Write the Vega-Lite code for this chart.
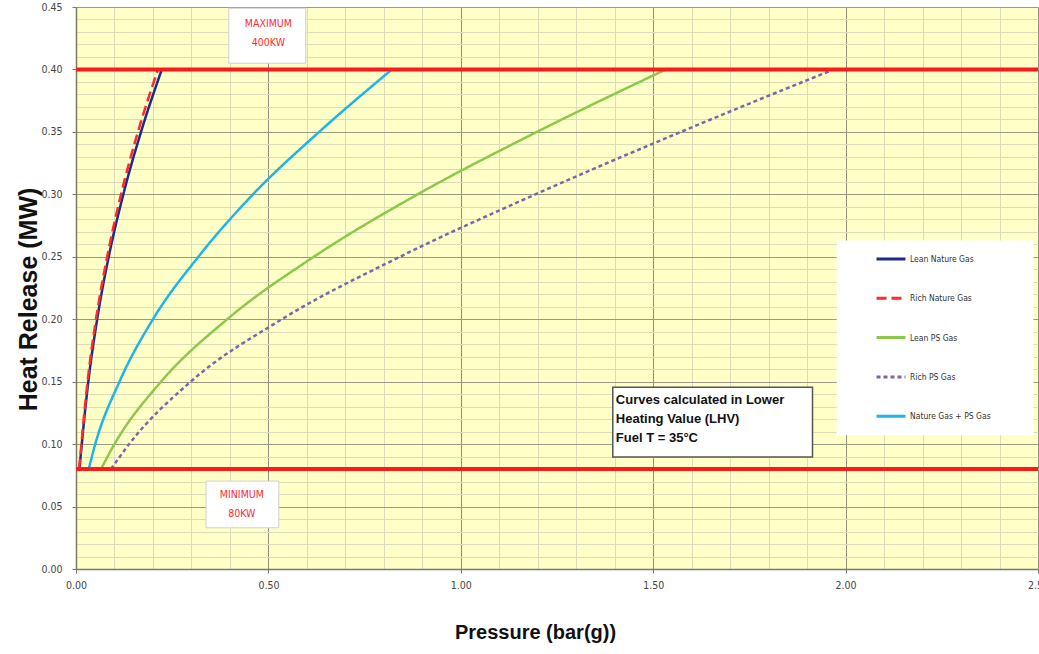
{
  "$schema": "https://vega.github.io/schema/vega-lite/v6.json",
  "width": 962,
  "height": 562,
  "autosize": {"type": "none"},
  "padding": {"left": 76, "top": 7, "right": 1, "bottom": 85},
  "background": "white",
  "config": {
    "view": {"fill": "#FFFFC8", "stroke": null},
    "axis": {
      "labelFont": "DejaVu Sans Condensed, Liberation Sans",
      "labelFontSize": 10.5,
      "labelColor": "#444444",
      "titleColor": "#111111",
      "titleFont": "Liberation Sans",
      "titleFontWeight": "bold",
      "domainColor": "#7a7a6a",
      "domainWidth": 1.5,
      "tickColor": "#7a7a6a",
      "tickSize": 4,
      "labelOverlap": false,
      "labelFlush": false
    },
    "legend": {
      "orient": "none",
      "legendX": 799,
      "legendY": 236,
      "padding": 0,
      "symbolType": "stroke",
      "symbolSize": 841,
      "symbolStrokeWidth": 3,
      "labelFont": "DejaVu Sans Condensed, Liberation Sans",
      "labelFontSize": 8.5,
      "labelColor": "#333333",
      "labelOffset": 3,
      "rowPadding": 17.3,
      "title": null
    }
  },
  "datasets": {
    "curves": [
      {"series": "Lean Nature Gas", "p": 0.009, "v": 0.08},
      {"series": "Lean Nature Gas", "p": 0.015, "v": 0.10},
      {"series": "Lean Nature Gas", "p": 0.032, "v": 0.15},
      {"series": "Lean Nature Gas", "p": 0.055, "v": 0.20},
      {"series": "Lean Nature Gas", "p": 0.085, "v": 0.25},
      {"series": "Lean Nature Gas", "p": 0.123, "v": 0.30},
      {"series": "Lean Nature Gas", "p": 0.169, "v": 0.35},
      {"series": "Lean Nature Gas", "p": 0.223, "v": 0.40},
      {"series": "Rich Nature Gas", "p": 0.008, "v": 0.08},
      {"series": "Rich Nature Gas", "p": 0.014, "v": 0.10},
      {"series": "Rich Nature Gas", "p": 0.030, "v": 0.15},
      {"series": "Rich Nature Gas", "p": 0.052, "v": 0.20},
      {"series": "Rich Nature Gas", "p": 0.081, "v": 0.25},
      {"series": "Rich Nature Gas", "p": 0.117, "v": 0.30},
      {"series": "Rich Nature Gas", "p": 0.161, "v": 0.35},
      {"series": "Rich Nature Gas", "p": 0.213, "v": 0.40},
      {"series": "Lean PS Gas", "p": 0.065, "v": 0.08},
      {"series": "Lean PS Gas", "p": 0.100, "v": 0.10},
      {"series": "Lean PS Gas", "p": 0.221, "v": 0.15},
      {"series": "Lean PS Gas", "p": 0.393, "v": 0.20},
      {"series": "Lean PS Gas", "p": 0.618, "v": 0.25},
      {"series": "Lean PS Gas", "p": 0.888, "v": 0.30},
      {"series": "Lean PS Gas", "p": 1.198, "v": 0.35},
      {"series": "Lean PS Gas", "p": 1.533, "v": 0.40},
      {"series": "Rich PS Gas", "p": 0.091, "v": 0.08},
      {"series": "Rich PS Gas", "p": 0.138, "v": 0.10},
      {"series": "Rich PS Gas", "p": 0.298, "v": 0.15},
      {"series": "Rich PS Gas", "p": 0.535, "v": 0.20},
      {"series": "Rich PS Gas", "p": 0.842, "v": 0.25},
      {"series": "Rich PS Gas", "p": 1.194, "v": 0.30},
      {"series": "Rich PS Gas", "p": 1.572, "v": 0.35},
      {"series": "Rich PS Gas", "p": 1.969, "v": 0.40},
      {"series": "Nature Gas + PS Gas", "p": 0.033, "v": 0.08},
      {"series": "Nature Gas + PS Gas", "p": 0.050, "v": 0.10},
      {"series": "Nature Gas + PS Gas", "p": 0.113, "v": 0.15},
      {"series": "Nature Gas + PS Gas", "p": 0.200, "v": 0.20},
      {"series": "Nature Gas + PS Gas", "p": 0.318, "v": 0.25},
      {"series": "Nature Gas + PS Gas", "p": 0.460, "v": 0.30},
      {"series": "Nature Gas + PS Gas", "p": 0.632, "v": 0.35},
      {"series": "Nature Gas + PS Gas", "p": 0.821, "v": 0.40}
    ],
    "limits": [
      {"limit": "maximum", "v": 0.40},
      {"limit": "minimum", "v": 0.08}
    ],
    "boxes": [
      {"box": "legend", "p": 1.977, "p2": 2.488, "v": 0.107, "v2": 0.263},
      {"box": "maximum", "p": 0.397, "p2": 0.597, "v": 0.405, "v2": 0.449},
      {"box": "minimum", "p": 0.338, "p2": 0.527, "v": 0.033, "v2": 0.0704},
      {"box": "note", "p": 1.395, "p2": 1.914, "v": 0.0896, "v2": 0.1456}
    ],
    "notes": [
      {"note": "maximum", "p": 0.5, "v": 0.436, "text": "MAXIMUM\n400KW"},
      {"note": "minimum", "p": 0.431, "v": 0.0592, "text": "MINIMUM\n80KW"},
      {"note": "lhv", "p": 1.403, "v": 0.1352, "text": "Curves calculated in Lower\nHeating Value (LHV)\nFuel T = 35°C"}
    ]
  },
  "layer": [
    {
      "data": {"name": "boxes"},
      "transform": [{"filter": "datum.box === 'legend'"}],
      "mark": {"type": "rect", "fill": "white", "strokeWidth": 0},
      "encoding": {
        "x": {"field": "p", "type": "quantitative", "title": "Pressure (bar(g))",
          "scale": {"domain": [0, 2.5], "nice": false, "zero": false},
          "axis": {
            "values": [0,0.1,0.2,0.3,0.4,0.5,0.6,0.7,0.8,0.9,1,1.1,1.2,1.3,1.4,1.5,1.6,1.7,1.8,1.9,2,2.1,2.2,2.3,2.4,2.5],
            "format": ".2f",
            "labelExpr": "abs(datum.value*2-round(datum.value*2))<0.001 ? datum.label : ''",
            "grid": true,
            "gridColor": {"condition": {"test": "abs(datum.value*2-round(datum.value*2))<0.001", "value": "#8f8f7a"}, "value": "#dcdcb8"},
            "gridWidth": 1,
            "tickOpacity": {"condition": {"test": "abs(datum.value*2-round(datum.value*2))<0.001", "value": 1}, "value": 0},
            "labelPadding": 7,
            "titleFontSize": 20,
            "titleX": 459,
            "titleY": 63,
            "titleAlign": "center",
            "titleBaseline": "middle"
          }
        },
        "x2": {"field": "p2"},
        "y": {"field": "v", "type": "quantitative", "title": "Heat Release (MW)",
          "scale": {"domain": [0, 0.45], "nice": false, "zero": false},
          "axis": {
            "values": [0,0.01,0.02,0.03,0.04,0.05,0.06,0.07,0.08,0.09,0.1,0.11,0.12,0.13,0.14,0.15,0.16,0.17,0.18,0.19,0.2,0.21,0.22,0.23,0.24,0.25,0.26,0.27,0.28,0.29,0.3,0.31,0.32,0.33,0.34,0.35,0.36,0.37,0.38,0.39,0.4,0.41,0.42,0.43,0.44,0.45],
            "format": ".2f",
            "labelExpr": "abs(datum.value*20-round(datum.value*20))<0.001 ? datum.label : ''",
            "grid": true,
            "gridColor": {"condition": {"test": "abs(datum.value*20-round(datum.value*20))<0.001", "value": "#9a9a82"}, "value": "#dcdcb8"},
            "gridWidth": 1,
            "tickOpacity": {"condition": {"test": "abs(datum.value*20-round(datum.value*20))<0.001", "value": 1}, "value": 0},
            "labelPadding": 10,
            "titleFontSize": 25,
            "titleX": -48,
            "titleY": 292,
            "titleAngle": -90,
            "titleAlign": "center",
            "titleBaseline": "middle"
          }
        },
        "y2": {"field": "v2"}
      }
    },
    {
      "data": {"name": "boxes"},
      "transform": [{"filter": "datum.box === 'maximum' || datum.box === 'minimum'"}],
      "mark": {"type": "rect", "fill": "white", "stroke": "#d0d0d0", "strokeWidth": 1},
      "encoding": {
        "x": {"field": "p", "type": "quantitative", "title": "Pressure (bar(g))",
          "scale": {"domain": [0, 2.5], "nice": false, "zero": false},
          "axis": {
            "values": [0,0.1,0.2,0.3,0.4,0.5,0.6,0.7,0.8,0.9,1,1.1,1.2,1.3,1.4,1.5,1.6,1.7,1.8,1.9,2,2.1,2.2,2.3,2.4,2.5],
            "format": ".2f",
            "labelExpr": "abs(datum.value*2-round(datum.value*2))<0.001 ? datum.label : ''",
            "grid": true,
            "gridColor": {"condition": {"test": "abs(datum.value*2-round(datum.value*2))<0.001", "value": "#8f8f7a"}, "value": "#dcdcb8"},
            "gridWidth": 1,
            "tickOpacity": {"condition": {"test": "abs(datum.value*2-round(datum.value*2))<0.001", "value": 1}, "value": 0},
            "labelPadding": 7,
            "titleFontSize": 20,
            "titleX": 459,
            "titleY": 63,
            "titleAlign": "center",
            "titleBaseline": "middle"
          }
        },
        "x2": {"field": "p2"},
        "y": {"field": "v", "type": "quantitative", "title": "Heat Release (MW)",
          "scale": {"domain": [0, 0.45], "nice": false, "zero": false},
          "axis": {
            "values": [0,0.01,0.02,0.03,0.04,0.05,0.06,0.07,0.08,0.09,0.1,0.11,0.12,0.13,0.14,0.15,0.16,0.17,0.18,0.19,0.2,0.21,0.22,0.23,0.24,0.25,0.26,0.27,0.28,0.29,0.3,0.31,0.32,0.33,0.34,0.35,0.36,0.37,0.38,0.39,0.4,0.41,0.42,0.43,0.44,0.45],
            "format": ".2f",
            "labelExpr": "abs(datum.value*20-round(datum.value*20))<0.001 ? datum.label : ''",
            "grid": true,
            "gridColor": {"condition": {"test": "abs(datum.value*20-round(datum.value*20))<0.001", "value": "#9a9a82"}, "value": "#dcdcb8"},
            "gridWidth": 1,
            "tickOpacity": {"condition": {"test": "abs(datum.value*20-round(datum.value*20))<0.001", "value": 1}, "value": 0},
            "labelPadding": 10,
            "titleFontSize": 25,
            "titleX": -48,
            "titleY": 292,
            "titleAngle": -90,
            "titleAlign": "center",
            "titleBaseline": "middle"
          }
        },
        "y2": {"field": "v2"}
      }
    },
    {
      "data": {"name": "boxes"},
      "transform": [{"filter": "datum.box === 'note'"}],
      "mark": {"type": "rect", "fill": "white", "stroke": "#555555", "strokeWidth": 1.5},
      "encoding": {
        "x": {"field": "p", "type": "quantitative", "title": "Pressure (bar(g))",
          "scale": {"domain": [0, 2.5], "nice": false, "zero": false},
          "axis": {
            "values": [0,0.1,0.2,0.3,0.4,0.5,0.6,0.7,0.8,0.9,1,1.1,1.2,1.3,1.4,1.5,1.6,1.7,1.8,1.9,2,2.1,2.2,2.3,2.4,2.5],
            "format": ".2f",
            "labelExpr": "abs(datum.value*2-round(datum.value*2))<0.001 ? datum.label : ''",
            "grid": true,
            "gridColor": {"condition": {"test": "abs(datum.value*2-round(datum.value*2))<0.001", "value": "#8f8f7a"}, "value": "#dcdcb8"},
            "gridWidth": 1,
            "tickOpacity": {"condition": {"test": "abs(datum.value*2-round(datum.value*2))<0.001", "value": 1}, "value": 0},
            "labelPadding": 7,
            "titleFontSize": 20,
            "titleX": 459,
            "titleY": 63,
            "titleAlign": "center",
            "titleBaseline": "middle"
          }
        },
        "x2": {"field": "p2"},
        "y": {"field": "v", "type": "quantitative", "title": "Heat Release (MW)",
          "scale": {"domain": [0, 0.45], "nice": false, "zero": false},
          "axis": {
            "values": [0,0.01,0.02,0.03,0.04,0.05,0.06,0.07,0.08,0.09,0.1,0.11,0.12,0.13,0.14,0.15,0.16,0.17,0.18,0.19,0.2,0.21,0.22,0.23,0.24,0.25,0.26,0.27,0.28,0.29,0.3,0.31,0.32,0.33,0.34,0.35,0.36,0.37,0.38,0.39,0.4,0.41,0.42,0.43,0.44,0.45],
            "format": ".2f",
            "labelExpr": "abs(datum.value*20-round(datum.value*20))<0.001 ? datum.label : ''",
            "grid": true,
            "gridColor": {"condition": {"test": "abs(datum.value*20-round(datum.value*20))<0.001", "value": "#9a9a82"}, "value": "#dcdcb8"},
            "gridWidth": 1,
            "tickOpacity": {"condition": {"test": "abs(datum.value*20-round(datum.value*20))<0.001", "value": 1}, "value": 0},
            "labelPadding": 10,
            "titleFontSize": 25,
            "titleX": -48,
            "titleY": 292,
            "titleAngle": -90,
            "titleAlign": "center",
            "titleBaseline": "middle"
          }
        },
        "y2": {"field": "v2"}
      }
    },
    {
      "data": {"name": "curves"},
      "mark": {"type": "line", "interpolate": "monotone", "strokeWidth": 2.5},
      "encoding": {
        "x": {"field": "p", "type": "quantitative", "title": "Pressure (bar(g))",
          "scale": {"domain": [0, 2.5], "nice": false, "zero": false},
          "axis": {
            "values": [0,0.1,0.2,0.3,0.4,0.5,0.6,0.7,0.8,0.9,1,1.1,1.2,1.3,1.4,1.5,1.6,1.7,1.8,1.9,2,2.1,2.2,2.3,2.4,2.5],
            "format": ".2f",
            "labelExpr": "abs(datum.value*2-round(datum.value*2))<0.001 ? datum.label : ''",
            "grid": true,
            "gridColor": {"condition": {"test": "abs(datum.value*2-round(datum.value*2))<0.001", "value": "#8f8f7a"}, "value": "#dcdcb8"},
            "gridWidth": 1,
            "tickOpacity": {"condition": {"test": "abs(datum.value*2-round(datum.value*2))<0.001", "value": 1}, "value": 0},
            "labelPadding": 7,
            "titleFontSize": 20,
            "titleX": 459,
            "titleY": 63,
            "titleAlign": "center",
            "titleBaseline": "middle"
          }
        },
        "y": {"field": "v", "type": "quantitative", "title": "Heat Release (MW)",
          "scale": {"domain": [0, 0.45], "nice": false, "zero": false},
          "axis": {
            "values": [0,0.01,0.02,0.03,0.04,0.05,0.06,0.07,0.08,0.09,0.1,0.11,0.12,0.13,0.14,0.15,0.16,0.17,0.18,0.19,0.2,0.21,0.22,0.23,0.24,0.25,0.26,0.27,0.28,0.29,0.3,0.31,0.32,0.33,0.34,0.35,0.36,0.37,0.38,0.39,0.4,0.41,0.42,0.43,0.44,0.45],
            "format": ".2f",
            "labelExpr": "abs(datum.value*20-round(datum.value*20))<0.001 ? datum.label : ''",
            "grid": true,
            "gridColor": {"condition": {"test": "abs(datum.value*20-round(datum.value*20))<0.001", "value": "#9a9a82"}, "value": "#dcdcb8"},
            "gridWidth": 1,
            "tickOpacity": {"condition": {"test": "abs(datum.value*20-round(datum.value*20))<0.001", "value": 1}, "value": 0},
            "labelPadding": 10,
            "titleFontSize": 25,
            "titleX": -48,
            "titleY": 292,
            "titleAngle": -90,
            "titleAlign": "center",
            "titleBaseline": "middle"
          }
        },
        "order": {"field": "p", "type": "quantitative"},
        "color": {"field": "series", "type": "nominal",
          "scale": {"domain": ["Lean Nature Gas", "Rich Nature Gas", "Lean PS Gas", "Rich PS Gas", "Nature Gas + PS Gas"],
                    "range": ["#1f2a8c", "#ff2a2a", "#8cc84b", "#8064a8", "#1eb4e8"]}},
        "strokeDash": {"field": "series", "type": "nominal",
          "scale": {"domain": ["Lean Nature Gas", "Rich Nature Gas", "Lean PS Gas", "Rich PS Gas", "Nature Gas + PS Gas"],
                    "range": [[1, 0], [10, 5], [1, 0], [4, 3], [1, 0]]}}
      }
    },
    {
      "data": {"name": "limits"},
      "mark": {"type": "rule", "color": "#ff1a1a", "strokeWidth": 4},
      "encoding": {
        "y": {"field": "v", "type": "quantitative", "title": "Heat Release (MW)",
          "scale": {"domain": [0, 0.45], "nice": false, "zero": false},
          "axis": {
            "values": [0,0.01,0.02,0.03,0.04,0.05,0.06,0.07,0.08,0.09,0.1,0.11,0.12,0.13,0.14,0.15,0.16,0.17,0.18,0.19,0.2,0.21,0.22,0.23,0.24,0.25,0.26,0.27,0.28,0.29,0.3,0.31,0.32,0.33,0.34,0.35,0.36,0.37,0.38,0.39,0.4,0.41,0.42,0.43,0.44,0.45],
            "format": ".2f",
            "labelExpr": "abs(datum.value*20-round(datum.value*20))<0.001 ? datum.label : ''",
            "grid": true,
            "gridColor": {"condition": {"test": "abs(datum.value*20-round(datum.value*20))<0.001", "value": "#9a9a82"}, "value": "#dcdcb8"},
            "gridWidth": 1,
            "tickOpacity": {"condition": {"test": "abs(datum.value*20-round(datum.value*20))<0.001", "value": 1}, "value": 0},
            "labelPadding": 10,
            "titleFontSize": 25,
            "titleX": -48,
            "titleY": 292,
            "titleAngle": -90,
            "titleAlign": "center",
            "titleBaseline": "middle"
          }
        }
      }
    },
    {
      "data": {"name": "notes"},
      "transform": [{"filter": "datum.note !== 'lhv'"}],
      "mark": {"type": "text", "color": "#ff2a2a", "font": "DejaVu Sans Condensed, Liberation Sans", "fontSize": 10.5, "align": "center", "baseline": "middle", "lineBreak": "\n", "lineHeight": 19},
      "encoding": {
        "x": {"field": "p", "type": "quantitative", "title": "Pressure (bar(g))",
          "scale": {"domain": [0, 2.5], "nice": false, "zero": false},
          "axis": {
            "values": [0,0.1,0.2,0.3,0.4,0.5,0.6,0.7,0.8,0.9,1,1.1,1.2,1.3,1.4,1.5,1.6,1.7,1.8,1.9,2,2.1,2.2,2.3,2.4,2.5],
            "format": ".2f",
            "labelExpr": "abs(datum.value*2-round(datum.value*2))<0.001 ? datum.label : ''",
            "grid": true,
            "gridColor": {"condition": {"test": "abs(datum.value*2-round(datum.value*2))<0.001", "value": "#8f8f7a"}, "value": "#dcdcb8"},
            "gridWidth": 1,
            "tickOpacity": {"condition": {"test": "abs(datum.value*2-round(datum.value*2))<0.001", "value": 1}, "value": 0},
            "labelPadding": 7,
            "titleFontSize": 20,
            "titleX": 459,
            "titleY": 63,
            "titleAlign": "center",
            "titleBaseline": "middle"
          }
        },
        "y": {"field": "v", "type": "quantitative", "title": "Heat Release (MW)",
          "scale": {"domain": [0, 0.45], "nice": false, "zero": false},
          "axis": {
            "values": [0,0.01,0.02,0.03,0.04,0.05,0.06,0.07,0.08,0.09,0.1,0.11,0.12,0.13,0.14,0.15,0.16,0.17,0.18,0.19,0.2,0.21,0.22,0.23,0.24,0.25,0.26,0.27,0.28,0.29,0.3,0.31,0.32,0.33,0.34,0.35,0.36,0.37,0.38,0.39,0.4,0.41,0.42,0.43,0.44,0.45],
            "format": ".2f",
            "labelExpr": "abs(datum.value*20-round(datum.value*20))<0.001 ? datum.label : ''",
            "grid": true,
            "gridColor": {"condition": {"test": "abs(datum.value*20-round(datum.value*20))<0.001", "value": "#9a9a82"}, "value": "#dcdcb8"},
            "gridWidth": 1,
            "tickOpacity": {"condition": {"test": "abs(datum.value*20-round(datum.value*20))<0.001", "value": 1}, "value": 0},
            "labelPadding": 10,
            "titleFontSize": 25,
            "titleX": -48,
            "titleY": 292,
            "titleAngle": -90,
            "titleAlign": "center",
            "titleBaseline": "middle"
          }
        },
        "text": {"field": "text"}
      }
    },
    {
      "data": {"name": "notes"},
      "transform": [{"filter": "datum.note === 'lhv'"}],
      "mark": {"type": "text", "color": "#111111", "font": "Liberation Sans", "fontWeight": "bold", "fontSize": 13, "align": "left", "baseline": "middle", "lineBreak": "\n", "lineHeight": 19},
      "encoding": {
        "x": {"field": "p", "type": "quantitative", "title": "Pressure (bar(g))",
          "scale": {"domain": [0, 2.5], "nice": false, "zero": false},
          "axis": {
            "values": [0,0.1,0.2,0.3,0.4,0.5,0.6,0.7,0.8,0.9,1,1.1,1.2,1.3,1.4,1.5,1.6,1.7,1.8,1.9,2,2.1,2.2,2.3,2.4,2.5],
            "format": ".2f",
            "labelExpr": "abs(datum.value*2-round(datum.value*2))<0.001 ? datum.label : ''",
            "grid": true,
            "gridColor": {"condition": {"test": "abs(datum.value*2-round(datum.value*2))<0.001", "value": "#8f8f7a"}, "value": "#dcdcb8"},
            "gridWidth": 1,
            "tickOpacity": {"condition": {"test": "abs(datum.value*2-round(datum.value*2))<0.001", "value": 1}, "value": 0},
            "labelPadding": 7,
            "titleFontSize": 20,
            "titleX": 459,
            "titleY": 63,
            "titleAlign": "center",
            "titleBaseline": "middle"
          }
        },
        "y": {"field": "v", "type": "quantitative", "title": "Heat Release (MW)",
          "scale": {"domain": [0, 0.45], "nice": false, "zero": false},
          "axis": {
            "values": [0,0.01,0.02,0.03,0.04,0.05,0.06,0.07,0.08,0.09,0.1,0.11,0.12,0.13,0.14,0.15,0.16,0.17,0.18,0.19,0.2,0.21,0.22,0.23,0.24,0.25,0.26,0.27,0.28,0.29,0.3,0.31,0.32,0.33,0.34,0.35,0.36,0.37,0.38,0.39,0.4,0.41,0.42,0.43,0.44,0.45],
            "format": ".2f",
            "labelExpr": "abs(datum.value*20-round(datum.value*20))<0.001 ? datum.label : ''",
            "grid": true,
            "gridColor": {"condition": {"test": "abs(datum.value*20-round(datum.value*20))<0.001", "value": "#9a9a82"}, "value": "#dcdcb8"},
            "gridWidth": 1,
            "tickOpacity": {"condition": {"test": "abs(datum.value*20-round(datum.value*20))<0.001", "value": 1}, "value": 0},
            "labelPadding": 10,
            "titleFontSize": 25,
            "titleX": -48,
            "titleY": 292,
            "titleAngle": -90,
            "titleAlign": "center",
            "titleBaseline": "middle"
          }
        },
        "text": {"field": "text"}
      }
    }
  ]
}
